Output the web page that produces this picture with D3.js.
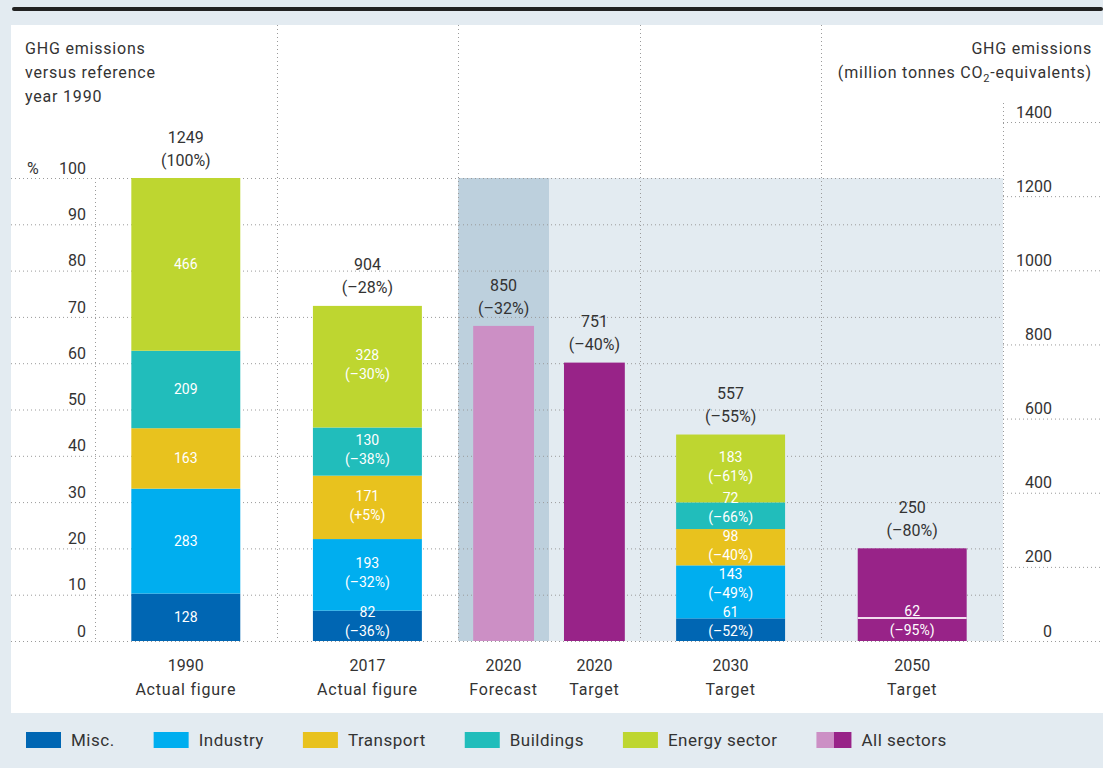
<!DOCTYPE html>
<html>
<head>
<meta charset="utf-8">
<script src="https://cdn.jsdelivr.net/npm/d3@7"></script>
<style>
  body { margin: 0; background: #e3ebf1; }
  svg text { font-family: Roboto, "Noto Sans", sans-serif; fill: #333; }
  svg text.words { letter-spacing: 0.8px; }
</style>
</head>
<body>
<div id="d3-container"></div>
<script>
/**
 * DATA
 * */
const columns = ["1990", "2017", "2020 Forecast", "2020 Target", "2030", "2050"];
const yearLabels = ["1990", "2017", "2020", "2020", "2030", "2050"];
const typeLabels = ["Actual figure", "Actual figure", "Forecast", "Target", "Target", "Target"];
const totals = [1249, 904, 850, 751, 557, 250];
const totalChange = ["100%", "–28%", "–32%", "–40%", "–55%", "–80%"];

const sectors = ["Misc.", "Industry", "Transport", "Buildings", "Energy sector"];
const sectorYears = ["1990", "2017", "2030"];
const misc = [128, 82, 61];
const industry = [283, 193, 143];
const transport = [163, 171, 98];
const buildings = [209, 130, 72];
const energy = [466, 328, 183];
const miscChange = [null, "–36%", "–52%"];
const industryChange = [null, "–32%", "–49%"];
const transportChange = [null, "+5%", "–40%"];
const buildingsChange = [null, "–38%", "–66%"];
const energyChange = [null, "–30%", "–61%"];

const remaining2050 = 62;
const remaining2050Change = "–95%";

const pctTicks = [0, 10, 20, 30, 40, 50, 60, 70, 80, 90, 100];
const mtTicks = [0, 200, 400, 600, 800, 1000, 1200, 1400];
const groups = ["1990", "2017", "2020", "2030", "2050"];
const subGroups = ["Forecast", "Target"];

/**
 * CONSTANTS
 * */
const width = 1103, height = 768;
const plotTop = 178, plotBottom = 641;
const sectorColors = ["#0066b3", "#00aeef", "#e8c21e", "#21bdbb", "#bed630"];
const forecastColor = "#cc8fc5", targetColor = "#982388";
const gridColor = "#9a9a9a";
const lineGap = 19;

const svg = d3.select("#d3-container")
  .append("svg")
  .attr("width", width)
  .attr("height", height);

// scales
const y = d3.scaleLinear().domain([0, totals[0]]).range([plotBottom, plotTop]);
const yPct = d3.scaleLinear().domain([0, 100]).range([plotBottom, plotTop]);
const xGroup = d3.scaleBand().domain(groups).range([95, 1003]);
const xSub = d3.scaleBand().domain(subGroups).range([0, xGroup.bandwidth()]);

function colGeom(i) {
  const g = yearLabels[i];
  const x0 = xGroup(g), bw = xGroup.bandwidth();
  if (g === "2020") {
    const s = typeLabels[i];
    return { cx: x0 + xSub(s) + xSub.bandwidth() / 2, w: xSub.bandwidth() * 0.67 };
  }
  return { cx: x0 + bw / 2, w: bw * 0.6 };
}

// background panels
svg.append("rect").attr("x", 0).attr("y", 0).attr("width", width).attr("height", height).attr("fill", "#e3ebf1");
svg.append("rect").attr("x", 11).attr("y", 25).attr("width", width - 11).attr("height", 688).attr("fill", "#fff");
svg.append("rect").attr("x", 12).attr("y", 7).attr("width", width - 12).attr("height", 4).attr("rx", 2).attr("fill", "#222");

// shaded future area
svg.append("rect")
  .attr("x", xGroup("2020")).attr("y", plotTop)
  .attr("width", 1003 - xGroup("2020")).attr("height", plotBottom - plotTop)
  .attr("fill", "#e3ebf1");
svg.append("rect")
  .attr("x", xGroup("2020") + xSub("Forecast")).attr("y", plotTop)
  .attr("width", xSub.bandwidth()).attr("height", plotBottom - plotTop)
  .attr("fill", "#bdd0dd");

// grid lines
const dots = "1,3";
svg.selectAll("line.hgrid")
  .data(pctTicks)
  .join("line")
  .attr("class", "hgrid")
  .attr("x1", 11).attr("x2", d => d === 0 ? width : 1003)
  .attr("y1", d => yPct(d) + 0.5).attr("y2", d => yPct(d) + 0.5)
  .attr("stroke", gridColor).attr("stroke-dasharray", dots);

svg.selectAll("line.rgrid")
  .data(mtTicks.filter(d => d > 0))
  .join("line")
  .attr("class", "rgrid")
  .attr("x1", 1003).attr("x2", width)
  .attr("y1", d => y(d) + 0.5).attr("y2", d => y(d) + 0.5)
  .attr("stroke", gridColor).attr("stroke-dasharray", dots);

const vLines = [
  { x: 95, top: plotTop },
  ...groups.slice(1).map(g => ({ x: xGroup(g), top: 25 })),
  { x: 1003, top: 103 }
];
svg.selectAll("line.vgrid")
  .data(vLines)
  .join("line")
  .attr("class", "vgrid")
  .attr("x1", d => Math.round(d.x) + 0.5).attr("x2", d => Math.round(d.x) + 0.5)
  .attr("y1", d => d.top).attr("y2", plotBottom)
  .attr("stroke", gridColor).attr("stroke-dasharray", dots);

// left axis (%)
svg.selectAll("text.pct")
  .data(pctTicks)
  .join("text")
  .attr("class", "pct")
  .attr("x", 86).attr("y", d => yPct(d) - 10).attr("dy", "0.35em")
  .attr("text-anchor", "end")
  .attr("font-size", 16)
  .text(d => d);
svg.append("text").attr("x", 27).attr("y", yPct(100) - 10).attr("dy", "0.35em")
  .attr("font-size", 16).text("%");

// right axis (Mt)
svg.selectAll("text.mt")
  .data(mtTicks)
  .join("text")
  .attr("class", "mt")
  .attr("x", 1052).attr("y", d => y(d) - 10).attr("dy", "0.35em")
  .attr("text-anchor", "end")
  .attr("font-size", 16)
  .text(d => d);

// headers
const leftHead = ["GHG emissions", "versus reference", "year 1990"];
svg.selectAll("text.lh")
  .data(leftHead)
  .join("text")
  .attr("class", "lh words")
  .attr("x", 25).attr("y", (d, i) => 48 + i * 24).attr("dy", "0.35em")
  .attr("font-size", 16)
  .text(d => d);
svg.append("text").attr("class", "words").attr("x", 1092).attr("y", 48).attr("dy", "0.35em")
  .attr("text-anchor", "end").attr("font-size", 16).text("GHG emissions");
const unit = svg.append("text").attr("class", "words").attr("x", 1092).attr("y", 72).attr("dy", "0.35em")
  .attr("text-anchor", "end").attr("font-size", 16);
unit.append("tspan").text("(million tonnes CO");
unit.append("tspan").attr("font-size", 11).attr("dy", 4).text("2");
unit.append("tspan").attr("dy", -4).text("-equivalents)");

// stacked sector bars
const rows = sectorYears.map((yr, i) => ({
  year: yr,
  "Misc.": misc[i], "Industry": industry[i], "Transport": transport[i],
  "Buildings": buildings[i], "Energy sector": energy[i]
}));
const changes = [miscChange, industryChange, transportChange, buildingsChange, energyChange];
const stacked = d3.stack().keys(sectors)(rows);

const layers = svg.selectAll("g.layer")
  .data(stacked)
  .join("g")
  .attr("class", "layer")
  .attr("fill", (d, i) => sectorColors[i]);

layers.selectAll("rect")
  .data(d => d.map((s, j) => ({ s, j })))
  .join("rect")
  .attr("x", d => { const g = colGeom(yearLabels.indexOf(sectorYears[d.j])); return g.cx - g.w / 2; })
  .attr("width", d => colGeom(yearLabels.indexOf(sectorYears[d.j])).w)
  .attr("y", d => y(d.s[1]))
  .attr("height", d => y(d.s[0]) - y(d.s[1]));

// segment labels, stacked bottom-up so two-line labels never collide
const segLabels = [];
sectorYears.forEach((yr, j) => {
  const g = colGeom(yearLabels.indexOf(yr));
  let limit = plotBottom - 10;
  stacked.forEach((layer, k) => {
    const s = layer[j];
    const mid = (y(s[0]) + y(s[1])) / 2;
    const chg = changes[k][j];
    if (chg) {
      const pc = Math.min(mid + 7.5, limit);
      segLabels.push({ x: g.cx, y: pc - lineGap, t: s[1] - s[0] });
      segLabels.push({ x: g.cx, y: pc, t: "(" + chg + ")" });
      limit = pc - 2 * lineGap;
    } else {
      segLabels.push({ x: g.cx, y: mid, t: s[1] - s[0] });
    }
  });
});

// single "all sectors" bars
const single = columns.map((c, i) => i).filter(i => !sectorYears.includes(yearLabels[i]) || i === 2 || i === 3);
svg.selectAll("rect.all")
  .data(single)
  .join("rect")
  .attr("class", "all")
  .attr("x", i => colGeom(i).cx - colGeom(i).w / 2)
  .attr("width", i => colGeom(i).w)
  .attr("y", i => y(totals[i]))
  .attr("height", i => y(0) - y(totals[i]))
  .attr("fill", i => typeLabels[i] === "Forecast" ? forecastColor : targetColor);

// 2050 remaining split
const g50 = colGeom(5);
svg.append("line")
  .attr("x1", g50.cx - g50.w / 2).attr("x2", g50.cx + g50.w / 2)
  .attr("y1", y(remaining2050)).attr("y2", y(remaining2050))
  .attr("stroke", "#f2dcef").attr("stroke-width", 2);
const restMid = (y(remaining2050) + y(0)) / 2 + 1;
segLabels.push({ x: g50.cx, y: restMid - lineGap, t: remaining2050 });
segLabels.push({ x: g50.cx, y: restMid, t: "(" + remaining2050Change + ")" });

svg.selectAll("text.seg")
  .data(segLabels)
  .join("text")
  .attr("class", "seg")
  .attr("x", d => d.x).attr("y", d => d.y).attr("dy", "0.35em")
  .attr("text-anchor", "middle")
  .attr("font-size", 14)
  .style("fill", "#fff")
  .text(d => d.t);

// totals above bars
const topLabels = svg.selectAll("g.total")
  .data(columns.map((c, i) => i))
  .join("g")
  .attr("class", "total")
  .attr("transform", i => `translate(${colGeom(i).cx},${y(totals[i])})`);
topLabels.append("text")
  .attr("y", -41).attr("dy", "0.35em").attr("text-anchor", "middle").attr("font-size", 16)
  .text(i => totals[i]);
topLabels.append("text")
  .attr("y", -18).attr("dy", "0.35em").attr("text-anchor", "middle").attr("font-size", 16)
  .text(i => "(" + totalChange[i] + ")");

// category labels
const cats = svg.selectAll("g.cat")
  .data(columns.map((c, i) => i))
  .join("g")
  .attr("class", "cat")
  .attr("transform", i => `translate(${colGeom(i).cx},0)`);
cats.append("text").attr("y", 665).attr("dy", "0.35em").attr("text-anchor", "middle")
  .attr("font-size", 16).text(i => yearLabels[i]);
cats.append("text").attr("class", "words").attr("y", 689).attr("dy", "0.35em").attr("text-anchor", "middle")
  .attr("font-size", 16).text(i => typeLabels[i]);

// legend
const legendItems = sectors.map((s, i) => ({ label: s, colors: [sectorColors[i]] }))
  .concat([{ label: "All sectors", colors: [forecastColor, targetColor] }]);
let lx = 26;
legendItems.forEach(item => {
  const g = svg.append("g").attr("transform", `translate(${lx},732)`);
  item.colors.forEach((c, k) => {
    const sw = 35 / item.colors.length;
    g.append("rect").attr("x", k * sw).attr("y", 0).attr("width", sw).attr("height", 16).attr("fill", c);
  });
  const t = g.append("text").attr("x", 45).attr("y", 8).attr("dy", "0.35em")
    .attr("font-size", 17).style("letter-spacing", "0.5px").text(item.label);
  lx += 45 + t.node().getComputedTextLength() + 39;
});
</script>
</body>
</html>
